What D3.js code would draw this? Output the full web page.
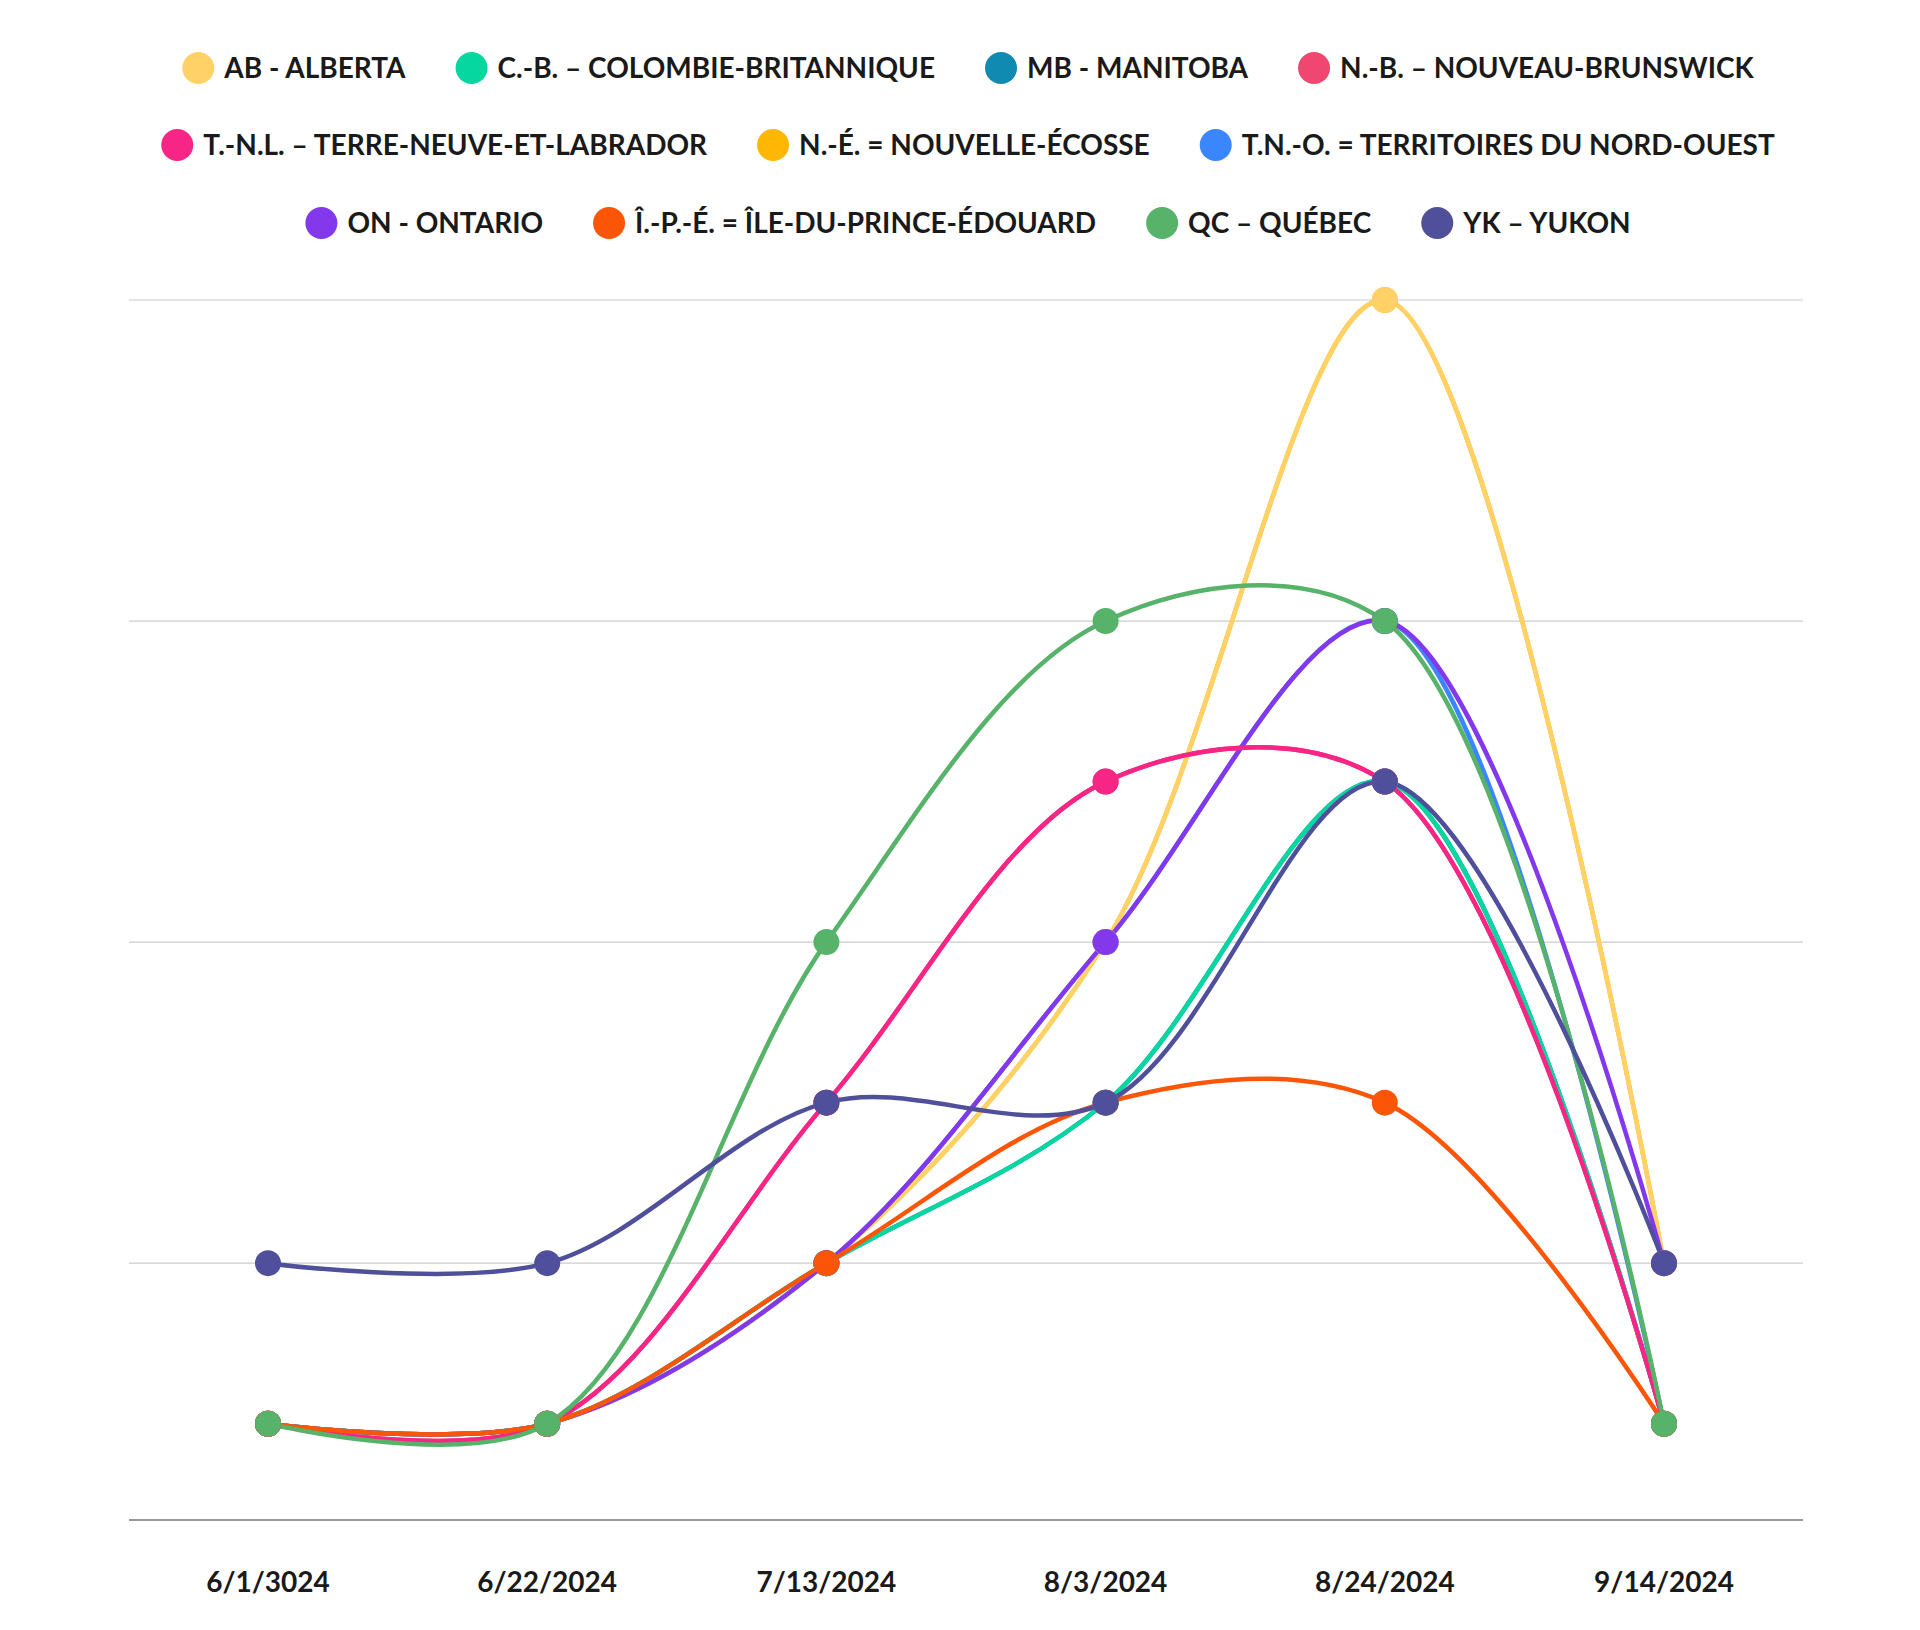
<!DOCTYPE html>
<html><head><meta charset="utf-8">
<script src="https://cdn.jsdelivr.net/npm/d3@7"></script>
<style>body{margin:0;background:#fff}text{font-family:Lato,"Open Sans",sans-serif;font-weight:700;fill:#1a1a1a}</style>
</head><body><svg id="c" width="1920" height="1630"></svg>
<script>
const dates = ["6/1/3024","6/22/2024","7/13/2024","8/3/2024","8/24/2024","9/14/2024"];
const names = ["AB - ALBERTA","C.-B. – COLOMBIE-BRITANNIQUE","MB - MANITOBA","N.-B. – NOUVEAU-BRUNSWICK","T.-N.L. – TERRE-NEUVE-ET-LABRADOR","N.-É. = NOUVELLE-ÉCOSSE","T.N.-O. = TERRITOIRES DU NORD-OUEST","ON - ONTARIO","Î.-P.-É. = ÎLE-DU-PRINCE-ÉDOUARD","QC – QUÉBEC","YK – YUKON"];
const colors = ["#ffd166","#06d6a0","#118ab2","#ef476f","#f72585","#ffb703","#3a86ff","#8338ec","#fb5607","#57b26a","#4f4f9b"];
const values = [
 [1,1,2,4,8,2],
 [1,1,2,3,5,1],
 [1,1,2,3,5,1],
 [1,1,3,5,5,1],
 [1,1,3,5,5,1],
 [1,1,2,4,8,2],
 [1,1,2,4,6,1],
 [1,1,2,4,6,2],
 [1,1,2,3,3,1],
 [1,1,4,6,6,1],
 [2,2,3,3,5,2]
];
const yTicks = [2,4,6,8];
const svg = d3.select("#c");
const x = d3.scalePoint().domain(dates).range([268,1664]);
const y = d3.scaleLinear().domain([0.4,8]).range([1520,300]);
svg.append("g").selectAll("line").data(yTicks).join("line")
 .attr("x1",129).attr("x2",1803).attr("y1",d=>y(d)).attr("y2",d=>y(d)).attr("stroke","#ccc").attr("stroke-width",1.2);
svg.append("line").attr("x1",129).attr("x2",1803).attr("y1",1520).attr("y2",1520).attr("stroke","#777").attr("stroke-width",1.5);
svg.append("g").selectAll("text").data(dates).join("text")
 .attr("x",d=>x(d)).attr("y",1592).attr("text-anchor","middle").attr("font-size",28).text(d=>d);
const line = d3.line().x((d,i)=>x(dates[i])).y(d=>y(d)).curve(d3.curveCatmullRom.alpha(0.5));
const order = [2,3,5,6,0,1,7,4,8,9,10];
order.forEach(k=>{
 const g = svg.append("g");
 g.append("path").attr("d",line(values[k])).attr("fill","none").attr("stroke",colors[k]).attr("stroke-width",4.5);
});
order.forEach(k=>{
 svg.append("g").selectAll("circle").data(values[k]).join("circle")
  .attr("cx",(d,i)=>x(dates[i])).attr("cy",d=>y(d)).attr("r",13).attr("fill",colors[k]);
});
// legend
const rows = [[0,1,2,3],[4,5,6],[7,8,9,10]];
const rowY = [68,145,223];
rows.forEach((r,ri)=>{
 const g = svg.append("g");
 let cx = 0;
 r.forEach(k=>{
  g.append("circle").attr("cx",cx+16).attr("cy",rowY[ri]).attr("r",16).attr("fill",colors[k]);
  const t = g.append("text").attr("x",cx+42).attr("y",rowY[ri]+10).attr("font-size",28).text(names[k]);
  cx += 42 + t.node().getComputedTextLength() + 50;
 });
 const w = cx - 50;
 g.attr("transform",`translate(${(1920-w)/2+8},0)`);
});
</script></body></html>
